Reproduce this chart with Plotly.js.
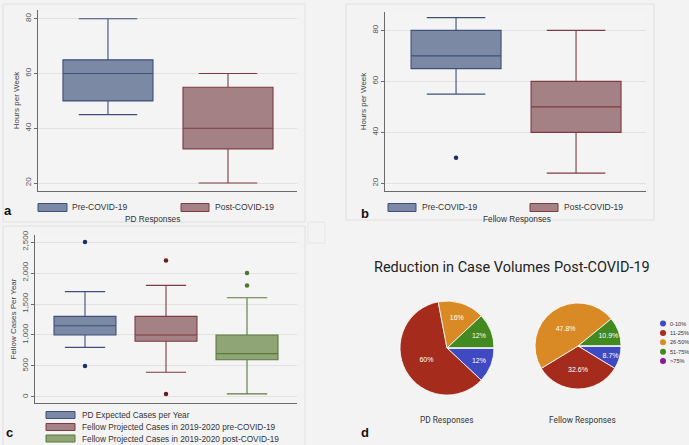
<!DOCTYPE html>
<html><head><meta charset="utf-8">
<script src="https://cdn.plot.ly/plotly-3.0.1.min.js"></script>
<style>html,body{margin:0;padding:0;background:#f3f3f3;}</style>
</head><body><div id="chart" style="width:689px;height:445px;"></div>
<script>
// ---- Data ----
const periodNames = ['Pre-COVID-19', 'Post-COVID-19'];
// Panel a: PD responses, hours per week
const a_q1 = [50, 32.5];
const a_median = [60, 40];
const a_q3 = [65, 55];
const a_low = [45, 20];
const a_high = [80, 60];
// Panel b: Fellow responses, hours per week
const b_q1 = [65, 40];
const b_median = [70, 50];
const b_q3 = [80, 60];
const b_low = [55, 24];
const b_high = [85, 80];
const b_outliers = [[30], []];
// Panel c: cases per year
const caseNames = ['PD Expected Cases per Year', 'Fellow Projected Cases in 2019-2020 pre-COVID-19', 'Fellow Projected Cases in 2019-2020 post-COVID-19'];
const c_q1 = [1000, 900, 600];
const c_median = [1150, 1000, 700];
const c_q3 = [1300, 1300, 1000];
const c_low = [800, 400, 50];
const c_high = [1700, 1800, 1600];
const c_outliers = [[2500, 500], [2200, 50], [2000, 1800]];
// Panel d: reduction in case volumes
const reductionLabels = ['0-10%', '11-25%', '26-50%', '51-75%', '>75%'];
const pdShares = [12, 60, 16, 12, 0];
const fellowShares = [8.7, 32.6, 47.8, 10.9, 0];

// ---- Styles ----
const boxFill = ['#7b89a4', '#a48184', '#8fa576'];
const boxLine = ['#3e4f7a', '#7d3b43', '#5b7a3b'];
const dotColor = ['#1f2f5e', '#6a1a22', '#4a7a2a'];
const pieColors = ['#3f4ac2', '#a52c1c', '#d98a24', '#42891f', '#8a1898'];
const W = 689, H = 445;
const px = v => v / W, py = v => 1 - v / H;

const traces = [];
function addBoxes(xa, ya, q1, med, q3, lo, hi, outs, width, ci0) {
  for (let i = 0; i < q1.length; i++) {
    const ci = ci0 + i;
    traces.push({
      type: 'box', xaxis: xa, yaxis: ya, x: [i],
      q1: [q1[i]], median: [med[i]], q3: [q3[i]], lowerfence: [lo[i]], upperfence: [hi[i]],
      width: width, whiskerwidth: 0.65, boxpoints: false,
      fillcolor: boxFill[ci], line: {color: boxLine[ci], width: 1.1},
      showlegend: false, hoverinfo: 'skip'
    });
    if (outs && outs[i] && outs[i].length) {
      traces.push({
        type: 'scatter', mode: 'markers', xaxis: xa, yaxis: ya,
        x: outs[i].map(() => i), y: outs[i],
        marker: {color: dotColor[ci], size: 4.5}, showlegend: false, hoverinfo: 'skip'
      });
    }
  }
}
addBoxes('x', 'y', a_q1, a_median, a_q3, a_low, a_high, null, 0.75, 0);
addBoxes('x2', 'y2', b_q1, b_median, b_q3, b_low, b_high, b_outliers, 0.75, 0);
addBoxes('x3', 'y3', c_q1, c_median, c_q3, c_low, c_high, c_outliers, 0.765, 0);

function pie(values, x0, x1, y0, y1) {
  return {
    type: 'pie', labels: reductionLabels, values: values, sort: false,
    direction: 'clockwise', rotation: 90,
    domain: {x: [px(x0), px(x1)], y: [py(y1), py(y0)]},
    marker: {colors: pieColors, line: {color: '#ffffff', width: 0.8}},
    textinfo: 'percent', textposition: 'inside', insidetextorientation: 'horizontal',
    textfont: {color: '#ffffff', size: 7, family: 'Liberation Sans'},
    showlegend: false, hoverinfo: 'skip'
  };
}
traces.push(pie(pdShares, 400, 494, 301, 395));
traces.push(pie(fellowShares, 535, 621, 303, 389));

const tickFont = {family: 'Liberation Sans', size: 8, color: '#555'};
const titleFont = {family: 'Liberation Sans', size: 8, color: '#444'};
function xax(d0, d1, r, anchor) {
  return {anchor: anchor, domain: [px(d0), px(d1)], range: r, showline: true, linecolor: '#6a6a6a', linewidth: 1.2,
    showgrid: false, zeroline: false, showticklabels: false, ticks: '', fixedrange: true};
}
function yax(d0, d1, r, tv, title, anchor, fmt) {
  return {anchor: anchor, domain: [py(d1), py(d0)], range: r, showline: true, linecolor: '#6a6a6a', linewidth: 1.2,
    showgrid: true, gridcolor: '#e2e2e2', gridwidth: 1, zeroline: false,
    tickmode: 'array', tickvals: tv, ticktext: tv.map(v => fmt ? v.toLocaleString('en-US') : String(v)),
    ticks: 'outside', ticklen: 3, tickcolor: '#6a6a6a', tickangle: -90, tickfont: tickFont,
    title: {text: title, font: titleFont, standoff: 2}, fixedrange: true};
}

const shapes = [];
const annotations = [];
function frame(x0, y0, x1, y1, col) {
  shapes.push({type: 'rect', xref: 'paper', yref: 'paper', x0: px(x0), x1: px(x1), y0: py(y1), y1: py(y0),
    line: {color: col || '#e0e0e0', width: 1}, fillcolor: 'rgba(0,0,0,0)', layer: 'below'});
}
frame(3, 4, 305, 222);
frame(346, 4, 654, 220);
frame(3, 226, 305, 446);
frame(308, 222, 325, 243, '#e6e6e6');

function text(t, x, y, size, opts) {
  annotations.push(Object.assign({xref: 'paper', yref: 'paper', x: px(x), y: py(y), text: t, showarrow: false,
    xanchor: 'left', yanchor: 'middle', font: {family: 'Liberation Sans', size: size, color: '#333'}}, opts || {}));
}
function legRect(x0, x1, yc, h, ci) {
  shapes.push({type: 'rect', xref: 'paper', yref: 'paper', x0: px(x0), x1: px(x1), y0: py(yc + h / 2), y1: py(yc - h / 2),
    fillcolor: boxFill[ci], line: {color: boxLine[ci], width: 1}});
}
// Legend a
legRect(38, 67, 207.5, 8, 0); text(periodNames[0], 70, 207.5, 8.5);
legRect(181, 209, 207.5, 8, 1); text(periodNames[1], 213, 207.5, 8.5);
text('PD Responses', 152, 218.5, 8.3, {xanchor: 'center'});
// Legend b
legRect(388, 416, 207.5, 8, 0); text(periodNames[0], 420, 207.5, 8.5);
legRect(530, 558, 207.5, 8, 1); text(periodNames[1], 562, 207.5, 8.5);
text('Fellow Responses', 517, 219, 8.3, {xanchor: 'center'});
// Legend c
[415, 427, 438.5].forEach((yc, i) => { legRect(46, 75, yc, 7, i); text(caseNames[i], 80, yc, 8.3); });
// Panel letters
const bold = (t) => '<b>' + t + '</b>';
const letterFont = {family: 'Liberation Sans', size: 13, color: '#111'};
text(bold('a'), 8, 210.5, 13, {xanchor: 'center', font: letterFont});
text(bold('b'), 365, 213, 13, {xanchor: 'center', font: letterFont});
text(bold('c'), 9.5, 432.5, 13, {xanchor: 'center', font: letterFont});
text(bold('d'), 365, 432, 13, {xanchor: 'center', font: letterFont});
// Panel d texts
text('Reduction in Case Volumes Post-COVID-19', 512, 267, 14.5, {xanchor: 'center', font: {family: 'Roboto', size: 14.5, color: '#222'}});
text('PD Responses', 446, 420, 8.3, {xanchor: 'center', font: {family: 'Roboto', size: 8.3, color: '#333'}});
text('Fellow Responses', 582, 420, 8.3, {xanchor: 'center', font: {family: 'Roboto', size: 8.3, color: '#333'}});
// Pie legend
reductionLabels.forEach((lab, i) => {
  const yc = 323.5 + i * 9.4;
  shapes.push({type: 'circle', xref: 'paper', yref: 'paper', xsizemode: 'pixel', ysizemode: 'pixel',
    xanchor: px(663), yanchor: py(yc), x0: -3, x1: 3, y0: -3, y1: 3,
    fillcolor: pieColors[i], line: {width: 0}});
  text(lab, 667.5, yc, 5.6, {font: {family: 'Liberation Sans', size: 5.6, color: '#333'}});
});

const layout = {
  width: W, height: H, margin: {l: 0, r: 0, t: 0, b: 0},
  paper_bgcolor: '#f3f3f3', plot_bgcolor: '#f4f4f4', showlegend: false,
  xaxis: xax(38, 297, [-0.583, 1.575], 'y'),
  yaxis: yax(10, 191, [17.1, 83.2], [20, 40, 60, 80], 'Hours per Week', 'x'),
  xaxis2: xax(385, 646, [-0.592, 1.583], 'y2'),
  yaxis2: yax(12, 191, [17.0, 87.2], [20, 40, 60, 80], 'Hours per Week', 'x2'),
  xaxis3: xax(35, 297, [-0.617, 2.617], 'y3'),
  yaxis3: yax(235, 403, [-97, 2613], [0, 500, 1000, 1500, 2000, 2500], 'Fellow Cases Per Year', 'x3', true),
  shapes: shapes, annotations: annotations
};
Plotly.newPlot('chart', traces, layout, {displayModeBar: false, staticPlot: true});
</script></body></html>
